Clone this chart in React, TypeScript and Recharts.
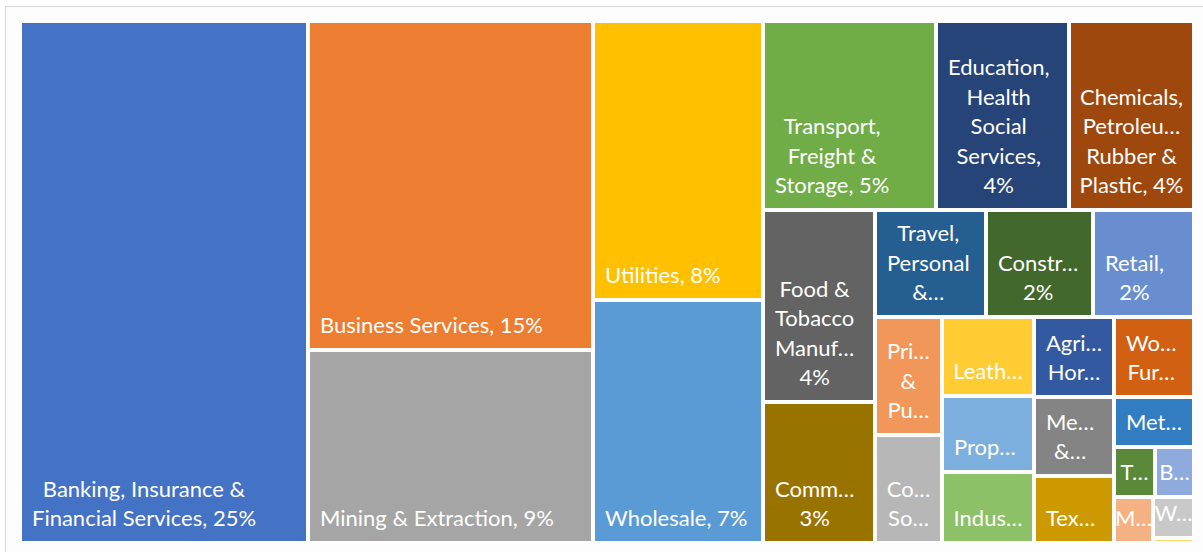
import React from 'react';
import { Treemap } from 'recharts';

const sectors = [
  'Banking, Insurance & Financial Services',
  'Business Services',
  'Mining & Extraction',
  'Utilities',
  'Wholesale',
  'Transport, Freight & Storage',
  'Education, Health Social Services',
  'Chemicals, Petroleum, Rubber & Plastic',
  'Food & Tobacco Manufacturing',
  'Communications',
  'Travel, Personal & Leisure',
  'Construction',
  'Retail',
  'Printing & Publishing',
  'Computer Software',
  'Leather, Stone, Clay & Glass products',
  'Property Services',
  'Industrial, Electric & Electronic Machinery',
  'Agriculture, Horticulture & Livestock',
  'Wood, Furniture & Paper Manufacturing',
  'Media & Broadcasting',
  'Textiles & Clothing Manufacturing',
  'Metals & Metal Products',
  'Transport Manufacturing',
  'Biotechnology and Life Sciences',
  'Miscellaneous Manufacturing',
  'Waste Management & Treatment',
  'Public Administration & Defence',
];

// share of companies, %
const shares = [
  24.57, 15.32, 8.95, 7.73, 6.79, 5.35, 4.09, 3.89, 3.51, 2.56, 1.94, 1.87, 1.75, 1.29,
  1.19, 1.18, 1.13, 1.07, 1.03, 1.03, 1.02, 0.86, 0.65, 0.33, 0.32, 0.29, 0.27, 0.04,
];

// labels as they fit in each tile; "|" breaks a line, {p} is the percentage
const tileLabels = [
  'Banking, Insurance &|Financial Services, {p}',
  'Business Services, {p}',
  'Mining & Extraction, {p}',
  'Utilities, {p}',
  'Wholesale, {p}',
  'Transport,|Freight &|Storage, {p}',
  'Education,|Health|Social|Services,|{p}',
  'Chemicals,|Petroleu…|Rubber &|Plastic, {p}',
  'Food &|Tobacco|Manuf…|{p}',
  'Comm…|{p}',
  'Travel,|Personal|&…',
  'Constr…|{p}',
  'Retail,|{p}',
  'Pri…|&|Pu…',
  'Co…|So…',
  'Leath…',
  'Prop…',
  'Indus…',
  'Agri…|Hor…',
  'Wo…|Fur…',
  'Me…|&…',
  'Tex…',
  'Met…',
  'T…',
  'B…',
  'M…',
  'W…',
  '',
];

const palette = [
  '#4472C4', '#ED7D31', '#A5A5A5', '#FFC000', '#5B9BD5', '#70AD47', '#264478',
  '#9E480E', '#636363', '#997300', '#255E91', '#43682B', '#698ED0', '#F1975A',
  '#B7B7B7', '#FFCD33', '#7CAFDD', '#8CC168', '#335AA1', '#D26012', '#848484',
  '#CC9A00', '#327DC2', '#5A8A39', '#8FAADC', '#F4B183', '#C9C9C9', '#FFD966',
];

// the small tail is nested so it packs into the bottom-right block
const TOP_LEVEL = 15;

const total = shares.reduce((a, b) => a + b, 0);
const leaf = (i: number) => ({ name: sectors[i], value: shares[i] });
const treeData = [
  ...sectors.slice(0, TOP_LEVEL).map((_, i) => leaf(i)),
  {
    name: 'Smaller sectors',
    children: sectors.slice(TOP_LEVEL).map((_, i) => leaf(i + TOP_LEVEL)),
  },
];

const FONT = 'Lato, "Open Sans", sans-serif';
const FONT_SIZE = 22;
const LINE = 29.5;
const GAP = 2;
const PAD = 10;

let ctx: CanvasRenderingContext2D | null = null;
const textWidth = (s: string) => {
  if (!ctx) ctx = document.createElement('canvas').getContext('2d');
  if (!ctx) return s.length * FONT_SIZE * 0.5;
  ctx.font = `${FONT_SIZE}px ${FONT}`;
  return ctx.measureText(s).width;
};

const renderTile = (props: any) => {
  const { x, y, width, height, name } = props;
  const i = sectors.indexOf(name);
  if (i < 0) return null;

  const pct = Math.round((shares[i] / total) * 100) + '%';
  const lines = tileLabels[i] ? tileLabels[i].replace('{p}', pct).split('|') : [];
  const visW = width - GAP * 2;
  const blockW = Math.max(0, ...lines.map(textWidth));
  const cx = x + GAP + Math.min(visW / 2, PAD + blockW / 2);
  const lastY = y + height - GAP - 15;

  return (
    <g>
      <rect
        x={x + GAP}
        y={y + GAP}
        width={Math.max(0, width - GAP * 2)}
        height={Math.max(0, height - GAP * 2)}
        fill={palette[i]}
      />
      {lines.length > 0 && (
        <text fill="#fff" fontFamily={FONT} fontSize={FONT_SIZE} textAnchor="middle">
          {lines.map((l, k) => (
            <tspan key={k} x={cx} y={lastY - (lines.length - 1 - k) * LINE}>
              {l}
            </tspan>
          ))}
        </text>
      )}
    </g>
  );
};

export default function App() {
  return (
    <div
      style={{
        position: 'fixed',
        left: 0,
        top: 0,
        width: 1203,
        height: 552,
        overflow: 'hidden',
        background: '#fff',
      }}
    >
      <div
        style={{
          position: 'absolute',
          left: 5,
          top: 6,
          width: 1300,
          height: 700,
          border: '1px solid #d9d9d9',
          background: '#fdfdfd',
        }}
      />
      <div style={{ position: 'absolute', left: 20, top: 21 }}>
        <Treemap
          width={1174}
          height={522}
          data={treeData}
          dataKey="value"
          nameKey="name"
          aspectRatio={1}
          isAnimationActive={false}
          content={renderTile}
        />
      </div>
    </div>
  );
}
